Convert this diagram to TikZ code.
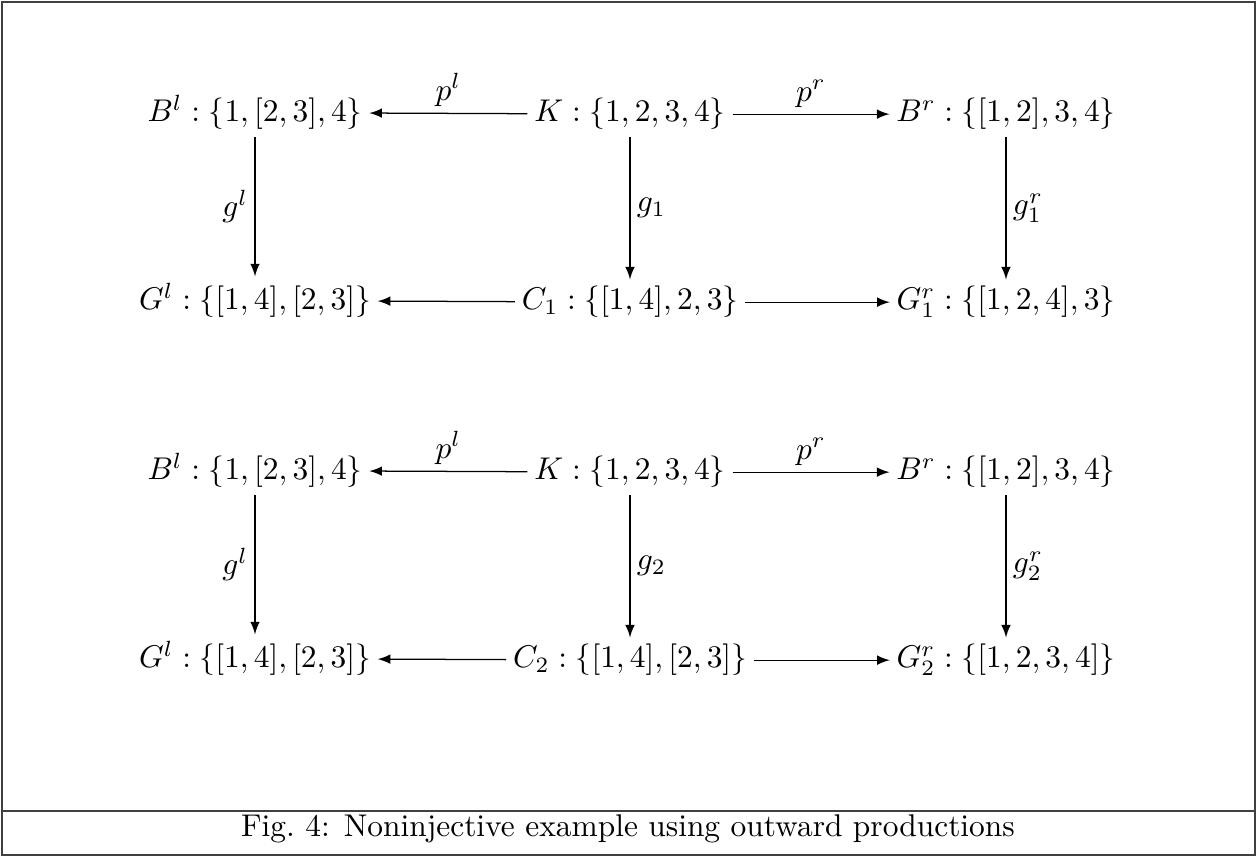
\documentclass[tikz,border=0pt]{standalone}
\usetikzlibrary{arrows}
\begin{document}
\begin{tikzpicture}[x=0.3182pt,y=-0.3182pt,
  obj/.style={anchor=base,inner sep=2pt},
  arr/.style={-latex,line width=0.4pt},
  lab/.style={inner sep=2pt,font=\normalsize},
  frame/.style={line width=0.4pt,draw=black!75}]
\useasboundingbox (0,0) rectangle (1257,857);
\draw[frame] (2,2) rectangle (1255,855);
\draw[frame] (2,811) -- (1255,811);
% diagram 1
\node[obj] (Bl1) at (255,122) {$B^l : \{1,[2,3],4\}$};
\node[obj] (K1) at (630,122) {$K : \{1,2,3,4\}$};
\node[obj] (Br1) at (1006,122) {$B^r : \{[1,2],3,4\}$};
\node[obj] (Gl1) at (255,310) {$G^l : \{[1,4],[2,3]\}$};
\node[obj] (C1) at (630,310) {$C_1 : \{[1,4],2,3\}$};
\node[obj] (Gr1) at (1006,310) {$G^r_1 : \{[1,2,4],3\}$};
\draw[arr] (K1) -- node[lab,above]{$p^l$} (Bl1);
\draw[arr] (K1) -- node[lab,above]{$p^r$} (Br1);
\draw[arr] (Bl1) -- node[lab,left]{$g^l$} (Gl1);
\draw[arr] (K1) -- node[lab,right]{$g_1$} (C1);
\draw[arr] (Br1) -- node[lab,right]{$g^r_1$} (Gr1);
\draw[arr] (C1) -- (Gl1);
\draw[arr] (C1) -- (Gr1);
% diagram 2
\node[obj] (Bl2) at (255,480) {$B^l : \{1,[2,3],4\}$};
\node[obj] (K2) at (630,480) {$K : \{1,2,3,4\}$};
\node[obj] (Br2) at (1006,480) {$B^r : \{[1,2],3,4\}$};
\node[obj] (Gl2) at (255,668) {$G^l : \{[1,4],[2,3]\}$};
\node[obj] (C2) at (630,668) {$C_2 : \{[1,4],[2,3]\}$};
\node[obj] (Gr2) at (1006,668) {$G^r_2 : \{[1,2,3,4]\}$};
\draw[arr] (K2) -- node[lab,above]{$p^l$} (Bl2);
\draw[arr] (K2) -- node[lab,above]{$p^r$} (Br2);
\draw[arr] (Bl2) -- node[lab,left]{$g^l$} (Gl2);
\draw[arr] (K2) -- node[lab,right]{$g_2$} (C2);
\draw[arr] (Br2) -- node[lab,right]{$g^r_2$} (Gr2);
\draw[arr] (C2) -- (Gl2);
\draw[arr] (C2) -- (Gr2);
% caption
\node[anchor=base] (cap) at (628,836) {Fig.~4: Noninjective example using outward productions};
\end{tikzpicture}
\end{document}
